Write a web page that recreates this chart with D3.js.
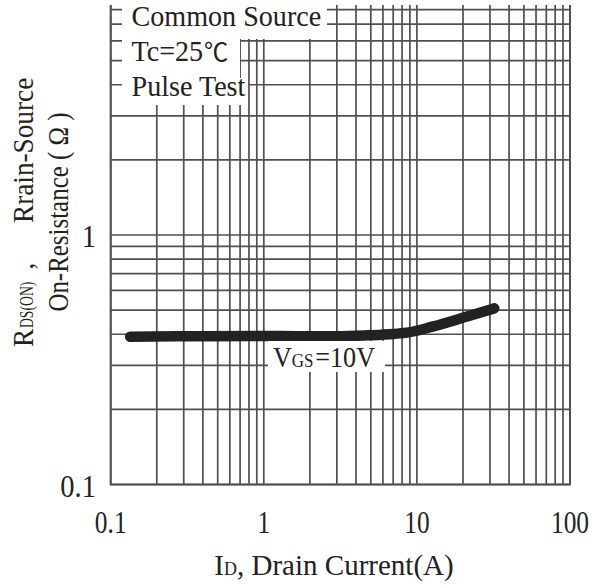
<!DOCTYPE html>
<html>
<head>
<meta charset="utf-8">
<script src="https://cdn.jsdelivr.net/npm/d3@7"></script>
<style>
  html, body { margin: 0; padding: 0; background: #fff; }
  svg { display: block; }
  text { font-family: "Liberation Serif", "Times New Roman", serif; fill: #222; }
</style>
</head>
<body>
<svg id="chart" width="613" height="588"></svg>
<script>
// ---- data ----
const drainCurrent = [0.134, 0.38, 1.0, 1.7, 3.0, 4.7, 7.0, 9.0, 12.6, 21, 32];
const rdsOn        = [0.391, 0.393, 0.394, 0.393, 0.393, 0.396, 0.401, 0.408, 0.429, 0.470, 0.508];
const xTickLabels = [0.1, 1, 10, 100];
const yTickLabels = [0.1, 1];
const notes = ["Common Source", "Tc=25", "Pulse Test"];

// ---- layout ----
const svg = d3.select("#chart");
const pLeft = 110.7, pRight = 570, pTop = 5, pBottom = 484.5;
const x = d3.scaleLog().domain([0.1, 100]).range([pLeft, pRight]);
const y = d3.scaleLog().domain([0.1, 8.35]).range([pBottom, pTop]);

const gridColor = "#505050";
const FS = 29;

function addText(g, tx, ty, sx, anchor, rot, fs) {
  return g.append("text")
    .attr("transform", `translate(${tx},${ty})` + (rot ? ` rotate(${rot})` : "") + ` scale(${sx},1)`)
    .attr("text-anchor", anchor || "start")
    .attr("font-size", fs || FS);
}

// grid
const gGrid = svg.append("g");
gGrid.selectAll("line.v").data(x.ticks()).join("line").attr("class", "v")
  .attr("x1", d => x(d)).attr("x2", d => x(d))
  .attr("y1", pTop).attr("y2", pBottom)
  .attr("stroke", gridColor).attr("stroke-width", 1.7);
gGrid.selectAll("line.h").data(y.ticks()).join("line").attr("class", "h")
  .attr("x1", pLeft).attr("x2", pRight)
  .attr("y1", d => y(d)).attr("y2", d => y(d))
  .attr("stroke", gridColor).attr("stroke-width", 1.7);
gGrid.append("path")
  .attr("d", `M${pLeft},${pTop}V${pBottom}H${pRight}V${pTop}`)
  .attr("fill", "none").attr("stroke", gridColor).attr("stroke-width", 1.9);

// note boxes
const gNotes = svg.append("g");
gNotes.append("rect").attr("x", 122).attr("y", 0).attr("width", 205).attr("height", 39).attr("fill", "#fff");
gNotes.append("rect").attr("x", 122).attr("y", 39).attr("width", 118).attr("height", 39).attr("fill", "#fff");
gNotes.append("rect").attr("x", 122).attr("y", 78).attr("width", 126).attr("height", 27).attr("fill", "#fff");
addText(gNotes, 131.5, 26, 0.97).text(notes[0]);
const tc = addText(gNotes, 131.5, 61, 0.97);
tc.append("tspan").text(notes[1]);
tc.append("tspan").attr("font-family", "'Noto Sans CJK JP', 'DejaVu Serif', serif")
  .attr("font-size", 25).attr("dx", 1).text("\u2103");
addText(gNotes, 131.5, 96, 0.97).text(notes[2]);

// curve
const line = d3.line().x(d => x(d[0])).y(d => y(d[1])).curve(d3.curveMonotoneX);
svg.append("path")
  .datum(drainCurrent.map((d, i) => [d, rdsOn[i]]))
  .attr("d", line)
  .attr("fill", "none").attr("stroke", "#222").attr("stroke-width", 10.5)
  .attr("stroke-linecap", "round").attr("stroke-linejoin", "round");

// VGS label
svg.append("rect").attr("x", 268).attr("y", 341).attr("width", 117).attr("height", 31).attr("fill", "#fff");
const vgs = addText(svg, 273, 366.5, 0.9);
vgs.append("tspan").text("V");
vgs.append("tspan").attr("font-size", FS * 0.65).text("GS");
vgs.append("tspan").attr("dx", 2).text("=10V");

// tick labels
const gTicks = svg.append("g");
xTickLabels.forEach(v => {
  addText(gTicks, x(v), 533, 0.82, "middle", 0, 31).text(String(v));
});
yTickLabels.forEach(v => {
  addText(gTicks, 96, y(v) + 12, 0.92, "end", 0, 31).text(String(v));
});

// axis titles
const xt = addText(svg, 334, 575, 1.0, "middle");
xt.append("tspan").text("I");
xt.append("tspan").attr("font-size", FS * 0.62).text("D");
xt.append("tspan").text(", Drain Current(A)");

// y title, line 1 (rotated, reading bottom-to-top)
addText(svg, 33, 347, 0.94, "start", -90).text("R");
addText(svg, 33, 328, 0.72, "start", -90, 19).text("DS(ON)");
addText(svg, 33, 266, 0.94, "middle", -90).text(",");
addText(svg, 33, 223, 0.94, "start", -90).text("Rrain-Source");
// line 2
addText(svg, 68, 212, 0.86, "middle", -90).text("On-Resistance ( \u03A9 )");
</script>
</body>
</html>
